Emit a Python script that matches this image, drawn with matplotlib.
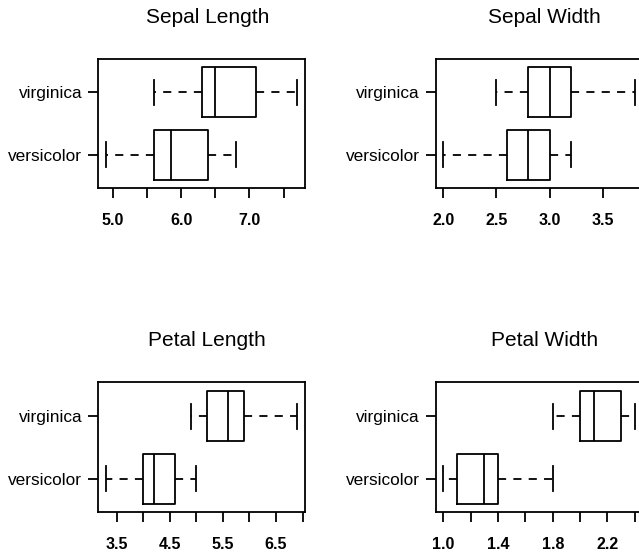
import matplotlib
matplotlib.use("Agg")
import matplotlib.pyplot as plt

plt.rcParams["font.family"] = ["Liberation Sans", "DejaVu Sans"]

# five-number summaries: min, Q1, median, Q3, max
species = ["versicolor", "virginica"]
titles = ["Sepal Length", "Sepal Width", "Petal Length", "Petal Width"]

sepal_length = [[4.9, 5.6, 5.85, 6.4, 6.8], [5.6, 6.3, 6.5, 7.1, 7.7]]
sepal_width = [[2.0, 2.6, 2.8, 3.0, 3.2], [2.5, 2.8, 3.0, 3.2, 3.8]]
petal_length = [[3.3, 4.0, 4.2, 4.6, 5.0], [4.9, 5.2, 5.6, 5.9, 6.9]]
petal_width = [[1.0, 1.1, 1.3, 1.4, 1.8], [1.8, 2.0, 2.1, 2.3, 2.4]]

# x ticks and which of them carry a label
ticks_sl = [5.0, 5.5, 6.0, 6.5, 7.0, 7.5]
labels_sl = ["5.0", "", "6.0", "", "7.0", ""]
ticks_sw = [2.0, 2.5, 3.0, 3.5]
labels_sw = ["2.0", "2.5", "3.0", "3.5"]
ticks_pl = [3.5, 4.0, 4.5, 5.0, 5.5, 6.0, 6.5, 7.0]
labels_pl = ["3.5", "", "4.5", "", "5.5", "", "6.5", ""]
ticks_pw = [1.0, 1.2, 1.4, 1.6, 1.8, 2.0, 2.2, 2.4]
labels_pw = ["1.0", "", "1.4", "", "1.8", "", "2.2", ""]

LW = 1.3


def draw_panel(ax, summary, title, ticks, ticklabels):
    stats = []
    for name, (lo, q1, med, q3, hi) in zip(species, summary):
        stats.append(dict(label=name, whislo=lo, q1=q1, med=med, q3=q3,
                          whishi=hi, fliers=[]))
    ax.bxp(stats, positions=[1, 2], widths=0.8, capwidths=0.4,
           orientation="horizontal", showfliers=False,
           boxprops=dict(color="black", linewidth=LW),
           medianprops=dict(color="black", linewidth=LW),
           whiskerprops=dict(color="black", linewidth=LW,
                             linestyle=(0, (4.5, 4))),
           capprops=dict(color="black", linewidth=LW))
    # R style 4% range padding
    lo = min(s[0] for s in summary)
    hi = max(s[4] for s in summary)
    pad = 0.04 * (hi - lo)
    ax.set_xlim(lo - pad, hi + pad)
    ax.set_ylim(0.46, 2.54)
    ax.set_yticks([1, 2])
    ax.set_yticklabels(species, fontsize=12.4)
    ax.set_xticks(ticks)
    ax.set_xticklabels(ticklabels, fontsize=11.5, fontweight="bold")
    ax.tick_params(axis="x", length=7, width=LW, pad=11)
    ax.tick_params(axis="y", length=7, width=LW, pad=4.5)
    for sp in ax.spines.values():
        sp.set_linewidth(LW)
    ax.annotate(title, xy=(0.5, 1.0), xycoords="axes fraction",
                xytext=(4, 30), textcoords="offset points",
                ha="center", va="center", fontsize=15)


fig = plt.figure(figsize=(6.39, 5.6), dpi=100)
w = 0.3235
h = 0.2318
ax1 = fig.add_axes([0.1538, 0.6634, w, h])
ax2 = fig.add_axes([0.6818, 0.6634, w, h])
ax3 = fig.add_axes([0.1538, 0.0852, w, h])
ax4 = fig.add_axes([0.6818, 0.0852, w, h])

draw_panel(ax1, sepal_length, titles[0], ticks_sl, labels_sl)
draw_panel(ax2, sepal_width, titles[1], ticks_sw, labels_sw)
draw_panel(ax3, petal_length, titles[2], ticks_pl, labels_pl)
draw_panel(ax4, petal_width, titles[3], ticks_pw, labels_pw)

fig.savefig("out.png", dpi=100)
